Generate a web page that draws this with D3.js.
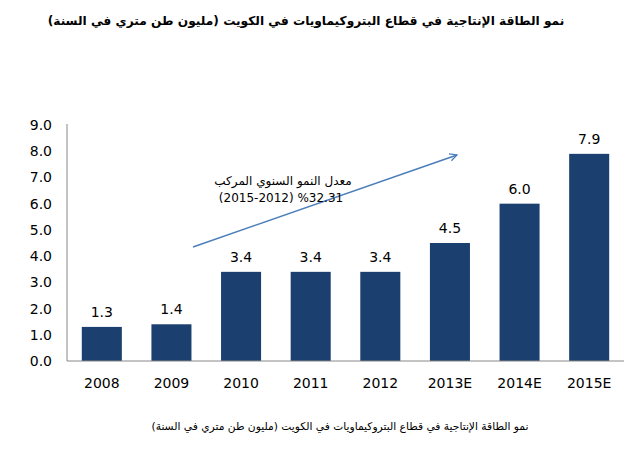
<!DOCTYPE html>
<html><head><meta charset="utf-8">
<script src="https://cdn.jsdelivr.net/npm/d3@7"></script>
<style>body{margin:0;background:#fff}</style>
</head><body>
<svg id="c" width="638" height="450"></svg>
<script>
const categories = ["2008","2009","2010","2011","2012","2013E","2014E","2015E"];
const values = [1.3,1.4,3.4,3.4,3.4,4.5,6.0,7.9];
const yTicks = [0,1,2,3,4,5,6,7,8,9];
const titleText = "نمو الطاقة الإنتاجية في قطاع البتروكيماويات في الكويت (مليون طن متري في السنة)";
const captionText = "نمو الطاقة الإنتاجية في قطاع البتروكيماويات في الكويت (مليون طن متري في السنة)";
const noteLine1 = "معدل النمو السنوي المركب";
const noteLine2 = "(2015-2012) %32.31";

const svg = d3.select("#c");
const x = d3.scaleBand().domain(categories).range([67, 624]).paddingInner(0.425).paddingOuter(0.2125);
const y = d3.scaleLinear().domain([0, 9]).range([361, 125]);
const numFont = "Verdana, 'DejaVu Sans', sans-serif";

// title
svg.append("text").attr("x", 306).attr("y", 25).attr("text-anchor","middle")
  .attr("font-family","'DejaVu Sans', sans-serif").attr("font-weight","bold").attr("font-size",12.2)
  .attr("direction","rtl").attr("fill","#000").text(titleText);

// bars
svg.selectAll("rect.bar").data(values).join("rect").attr("class","bar")
  .attr("x",(d,i)=>x(categories[i])).attr("width",x.bandwidth())
  .attr("y",d=>y(d)).attr("height",d=>y(0)-y(d)).attr("fill","#1b3f6e");

// value labels
svg.selectAll("text.val").data(values).join("text").attr("class","val")
  .attr("x",(d,i)=>x(categories[i])+x.bandwidth()/2).attr("y",d=>y(d)-10)
  .attr("text-anchor","middle").attr("font-family",numFont).attr("font-size",14).attr("fill","#000")
  .text(d=>d.toFixed(1));

// axes
const yAxis = svg.append("g").attr("transform","translate(67,0)")
  .call(d3.axisLeft(y).tickValues(yTicks).tickSize(0).tickPadding(15).tickFormat(d=>d.toFixed(1)));
yAxis.select(".domain").attr("stroke","#888").attr("d","M0,124V361");
yAxis.selectAll("text").attr("font-family",numFont).attr("font-size",14).attr("fill","#000");

const xAxis = svg.append("g").attr("transform","translate(0,361)")
  .call(d3.axisBottom(x).tickSize(0).tickPadding(17));
xAxis.select(".domain").attr("stroke","#888").attr("d","M67,0H624");
xAxis.selectAll("text").attr("font-family",numFont).attr("font-size",14).attr("fill","#000");

// arrow
const defs = svg.append("defs");
defs.append("marker").attr("id","ah").attr("viewBox","0 0 10 10").attr("refX",9).attr("refY",5)
  .attr("markerWidth",9).attr("markerHeight",9).attr("orient","auto").attr("markerUnits","userSpaceOnUse")
  .append("path").attr("d","M1,1L9,5L1,9").attr("fill","none").attr("stroke","#4a7ebb").attr("stroke-width",1.4);
svg.append("line").attr("x1",193).attr("y1",247).attr("x2",457).attr("y2",155)
  .attr("stroke","#4a7ebb").attr("stroke-width",1.5).attr("marker-end","url(#ah)");

// annotation
svg.append("text").attr("x",283).attr("y",185).attr("text-anchor","middle").attr("direction","rtl")
  .attr("font-family","'DejaVu Sans', sans-serif").attr("font-size",12).attr("fill","#000").text(noteLine1);
svg.append("text").attr("x",281).attr("y",202).attr("text-anchor","middle")
  .attr("font-family",numFont).attr("font-size",12).attr("fill","#000").text(noteLine2);

// caption
svg.append("text").attr("x",340).attr("y",430).attr("text-anchor","middle").attr("direction","rtl")
  .attr("font-family","'DejaVu Sans', sans-serif").attr("font-size",10.7).attr("fill","#000").text(captionText);
</script>
</body></html>
